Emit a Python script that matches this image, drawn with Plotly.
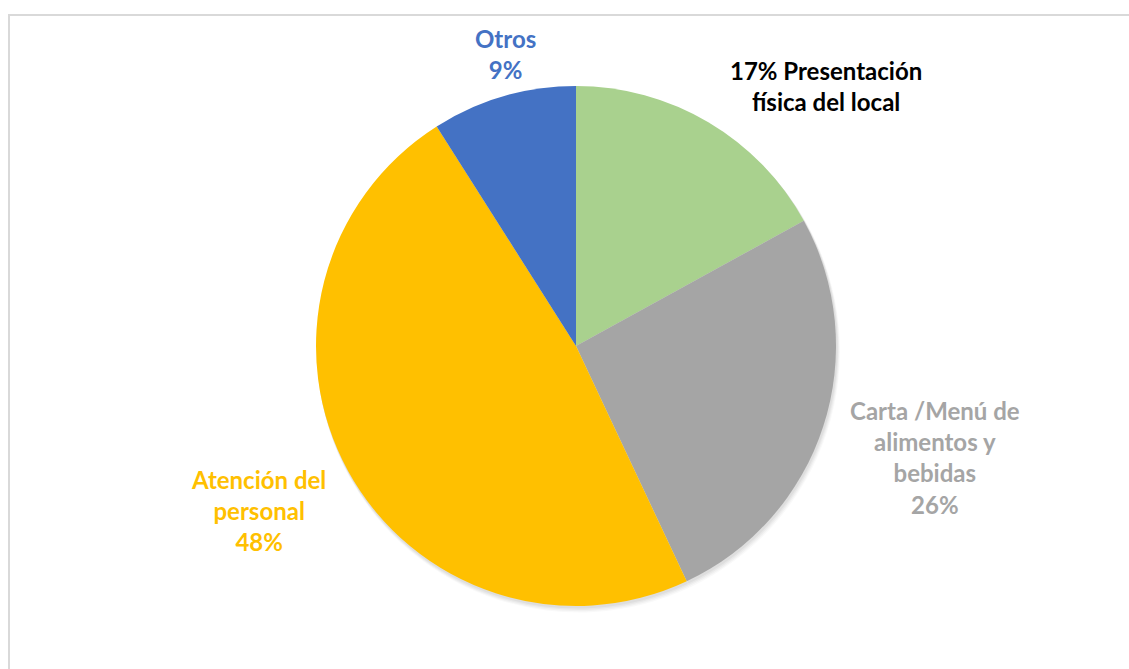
import plotly.graph_objects as go

# Distribución de respuestas por aspecto evaluado
categorias = ["Presentación física del local", "Carta /Menú de alimentos y bebidas",
              "Atención del personal", "Otros"]
porcentajes = [17, 26, 48, 9]
colores = ["#A9D18E", "#A5A5A5", "#FFC000", "#4472C4"]

W, H = 1129, 669
cx, cy, r = 576, 346, 260

def dom(cx, cy, r):
    return dict(x=[(cx - r) / W, (cx + r) / W], y=[1 - (cy + r) / H, 1 - (cy - r) / H])

fig = go.Figure()

# soft drop shadow beneath the pie
for off, a in [(5, 0.025), (4, 0.03), (3, 0.035), (2, 0.04)]:
    fig.add_trace(go.Pie(
        values=porcentajes, labels=categorias, sort=False, direction="clockwise",
        marker=dict(colors=["rgba(0,0,0,%g)" % a] * 4, line=dict(width=0)),
        textinfo="none", hoverinfo="skip", showlegend=False,
        domain=dom(cx + off * 0.5, cy + off, r + off * 0.3),
    ))

fig.add_trace(go.Pie(
    values=porcentajes, labels=categorias, sort=False, direction="clockwise",
    marker=dict(colors=colores, line=dict(width=0)),
    textinfo="none", showlegend=False,
    domain=dom(cx, cy, r),
))

fnt = "Lato, 'Open Sans', sans-serif"
etiquetas = [
    ("<b>%d%% Presentación<br>física del local</b>" % porcentajes[0], 826, 86, "#000000"),
    ("<b>Carta /Menú de<br>alimentos y<br>bebidas<br>%d%%</b>" % porcentajes[1], 935, 457, colores[1]),
    ("<b>Atención del<br>personal<br>%d%%</b>" % porcentajes[2], 258, 511, colores[2]),
    ("<b>Otros<br>%d%%</b>" % porcentajes[3], 505, 54, colores[3]),
]
for txt, x, y, c in etiquetas:
    fig.add_annotation(text=txt, x=x / W, y=1 - y / H, xref="paper", yref="paper",
                       showarrow=False, xanchor="center", yanchor="middle", align="center",
                       font=dict(family=fnt, size=24, color=c))

# chart area border
fig.add_shape(type="rect", xref="paper", yref="paper",
              x0=9 / W, x1=1.02, y0=-0.02, y1=1 - 15 / H,
              line=dict(color="#D9D9D9", width=2), fillcolor="rgba(0,0,0,0)")

fig.update_layout(width=W, height=H, margin=dict(l=0, r=0, t=0, b=0),
                  paper_bgcolor="white", plot_bgcolor="white")
fig.write_html("out.html")
